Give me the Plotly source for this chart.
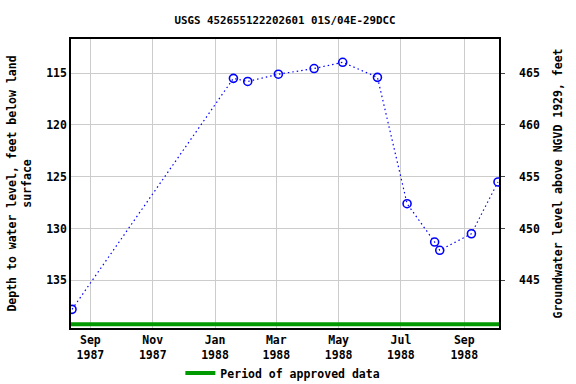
import plotly.graph_objects as go

# Data
dates = ["1987-08-14", "1988-01-19", "1988-02-02", "1988-03-03", "1988-04-07",
         "1988-05-05", "1988-06-08", "1988-07-07", "1988-08-03", "1988-08-08",
         "1988-09-08", "1988-10-04"]
depth = [137.8, 115.5, 115.8, 115.1, 114.55, 113.95, 115.4, 127.6, 131.3, 132.1, 130.5, 125.5]
datum = 580.0  # land surface elevation, NGVD 1929
elevation = [datum - d for d in depth]

approved_x = ["1987-08-13", "1988-10-05"]
approved_y = [139.25, 139.25]

tick_vals = ["1987-09-01", "1987-11-01", "1988-01-01", "1988-03-01",
             "1988-05-01", "1988-07-01", "1988-09-01"]
tick_text = ["Sep<br>1987", "Nov<br>1987", "Jan<br>1988", "Mar<br>1988",
             "May<br>1988", "Jul<br>1988", "Sep<br>1988"]

y_range = [139.6, 111.7]
FONT = "DejaVu Sans Mono"

fig = go.Figure()
fig.add_trace(go.Scatter(
    x=approved_x, y=approved_y, mode="lines",
    line=dict(color="#009900", width=4),
    name="Period of approved data", showlegend=True, hoverinfo="skip"))
fig.add_trace(go.Scatter(
    x=dates, y=depth, mode="lines+markers",
    line=dict(color="#0000ff", width=1.2, dash="1.5px,3px"),
    marker=dict(symbol="circle-open", size=8, color="#0000ff", line=dict(width=1.6)),
    showlegend=False, name="Depth"))
fig.add_trace(go.Scatter(
    x=dates, y=elevation, yaxis="y2", mode="markers",
    marker=dict(opacity=0), showlegend=False, hoverinfo="skip"))

fig.update_layout(
    width=576, height=384,
    margin=dict(l=71, r=77, t=39, b=56, autoexpand=False),
    paper_bgcolor="white", plot_bgcolor="white",
    font=dict(family=FONT, size=11.5, color="black", weight="bold"),
    title=dict(text="USGS 452655122202601 01S/04E-29DCC", x=0.495, xanchor="center",
               y=0.948, yanchor="middle",
               font=dict(family=FONT, size=10.8, color="black", weight="bold")),
    xaxis=dict(
        type="date", range=["1987-08-13", "1988-10-05"], automargin=False,
        tickvals=tick_vals, ticktext=tick_text, tickangle=0,
        showgrid=True, gridcolor="#cccccc", gridwidth=1,
        showline=True, linecolor="black", linewidth=1.5, mirror=True,
        ticks="", zeroline=False,
        tickfont=dict(family=FONT, size=11.5, weight="bold")),
    yaxis=dict(
        range=y_range, tickvals=[115, 120, 125, 130, 135], automargin=False,
        showgrid=True, gridcolor="#cccccc", gridwidth=1,
        showline=True, linecolor="black", linewidth=1.5,
        ticks="", zeroline=False,
        title=dict(text="Depth to water level, feet below land<br>surface",
                   font=dict(family=FONT, size=11.5, weight="bold"), standoff=12),
        tickfont=dict(family=FONT, size=11.5, weight="bold")),
    yaxis2=dict(
        overlaying="y", side="right", automargin=False,
        range=[datum - y_range[0], datum - y_range[1]],
        tickvals=[445, 450, 455, 460, 465],
        showgrid=False, showline=True, linecolor="black", linewidth=1.5,
        ticks="outside", ticklen=4, zeroline=False, ticklabelstandoff=12,
        title=dict(text="Groundwater level above NGVD 1929, feet",
                   font=dict(family=FONT, size=11.5, weight="bold"), standoff=15),
        tickfont=dict(family=FONT, size=11.5, weight="bold")),
    legend=dict(orientation="h", x=0.495, xanchor="center", y=-0.156, yanchor="middle",
                font=dict(family=FONT, size=11.5, weight="bold"),
                itemwidth=30, bgcolor="rgba(0,0,0,0)"),
)

fig.write_html("out.html", config={"displayModeBar": False},
               post_script="document.body.style.margin='0';")
